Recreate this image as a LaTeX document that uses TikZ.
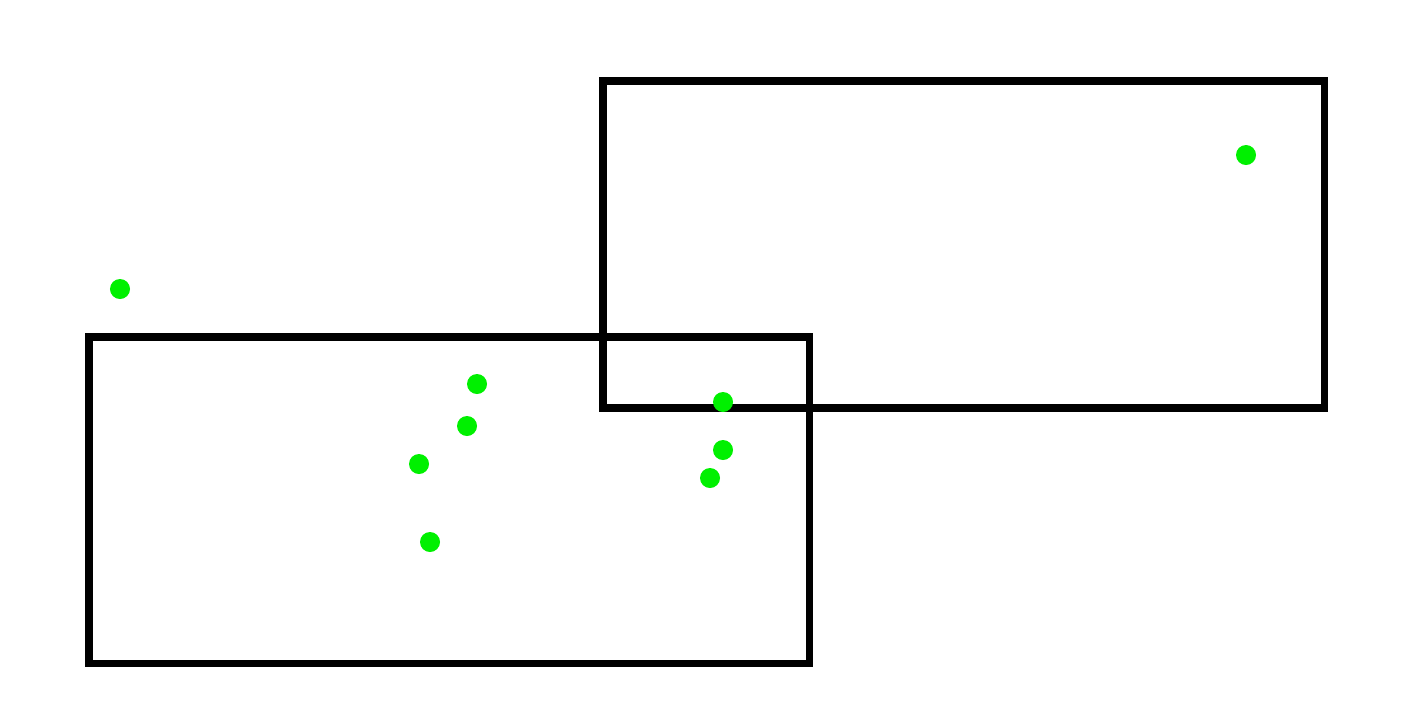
\documentclass[tikz,border=0pt]{standalone}
\usepackage{xcolor}
\usepackage{tikz}
\definecolor{dotgreen}{RGB}{0,240,0}

\begin{document}
\begin{tikzpicture}[x=0.01cm,y=-0.01cm,
  box/.style={draw=black,line width=2pt},
  pt/.style={circle,fill=dotgreen,inner sep=0pt,minimum size=0.2cm}]
\useasboundingbox (0,0) rectangle (1407,724);
% the two windows
\draw[box] (89,337) rectangle (809,663);
\draw[box] (603,81) rectangle (1324,408);
% points
\node[pt] (p1) at (120,289) {};
\node[pt] (p2) at (1246,155) {};
\node[pt] (p3) at (477,384) {};
\node[pt] (p4) at (467,426) {};
\node[pt] (p5) at (419,464) {};
\node[pt] (p6) at (430,542) {};
\node[pt] (p7) at (723,402) {};
\node[pt] (p8) at (723,450) {};
\node[pt] (p9) at (710,478) {};
\end{tikzpicture}
\end{document}
